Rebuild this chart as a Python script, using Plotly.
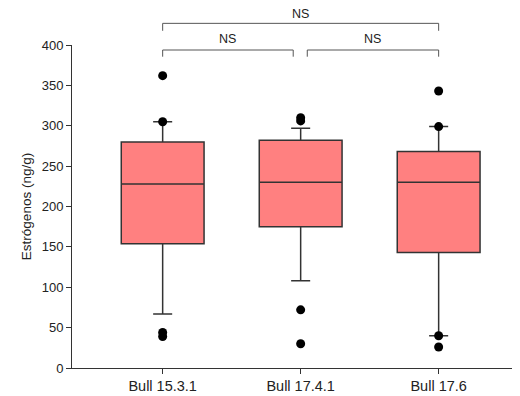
import plotly.graph_objects as go

categories = ["Bull 15.3.1", "Bull 17.4.1", "Bull 17.6"]
q1 = [154, 175, 143]
median = [228, 230, 230]
q3 = [280, 282, 268]
lower_whisker = [67, 108, 40]
upper_whisker = [305, 297, 299]
outliers = [
    [362, 305, 44, 39],
    [310, 306, 72, 30],
    [343, 299, 40, 26],
]
y_ticks = [0, 50, 100, 150, 200, 250, 300, 350, 400]
comparisons = [(0, 2, "NS", "top"), (0, 1, "NS", "low"), (1, 2, "NS", "low")]

FONT = "Liberation Sans, Arial, sans-serif"
fig = go.Figure()

xs = list(range(len(categories)))
fig.add_trace(go.Box(
    x=xs, q1=q1, median=median, q3=q3,
    lowerfence=lower_whisker, upperfence=upper_whisker,
    width=0.6, whiskerwidth=0.23,
    fillcolor="#FF8080", line=dict(color="#333333", width=1.5),
    boxpoints=False, showlegend=False, hoverinfo="skip",
))

ox, oy = [], []
for i, vals in enumerate(outliers):
    for v in vals:
        ox.append(i)
        oy.append(v)
fig.add_trace(go.Scatter(
    x=ox, y=oy, mode="markers",
    marker=dict(color="black", size=9),
    showlegend=False, cliponaxis=False,
))

shapes = []
annotations = []
for a, b, label, level in comparisons:
    if level == "top":
        ytop, ybot, ytext = 1.067, 1.044, 1.096
    else:
        ytop, ybot, ytext = 0.9845, 0.9638, 1.0176
    xa = a if a == 0 else a + 0.048
    xb = b if b == 2 else b - 0.054
    shapes.append(dict(type="path", xref="x", yref="paper",
                       path=f"M {xa} {ybot} L {xa} {ytop} L {xb} {ytop} L {xb} {ybot}",
                       line=dict(color="#555555", width=1)))
    annotations.append(dict(x=(xa + xb) / 2, y=ytext, xref="x", yref="paper",
                            text=label, showarrow=False, yanchor="middle",
                            font=dict(family=FONT, size=12.5, color="#222222")))

fig.update_layout(
    width=512, height=388,
    margin=dict(l=64, r=2, t=37, b=28),
    paper_bgcolor="white", plot_bgcolor="white",
    font=dict(family=FONT, size=13, color="#222222"),
    shapes=shapes, annotations=annotations,
    xaxis=dict(
        range=[-0.657, 2.575],
        tickmode="array", tickvals=xs, ticktext=categories,
        ticks="outside", ticklen=5, tickcolor="#333333",
        showline=True, linecolor="#333333", linewidth=1,
        showgrid=False, zeroline=False,
        tickfont=dict(family=FONT, size=14.5, color="#222222"),
    ),
    yaxis=dict(
        range=[0, 400],
        tickmode="array", tickvals=y_ticks,
        ticks="outside", ticklen=5, tickcolor="#333333",
        showline=True, linecolor="#333333", linewidth=1,
        showgrid=False, zeroline=False,
        tickfont=dict(family=FONT, size=13, color="#222222"),
        title=dict(text="Estrógenos (ng/g)", standoff=6,
                   font=dict(family=FONT, size=13.5, color="#222222")),
    ),
)

fig.write_html("out.html")
